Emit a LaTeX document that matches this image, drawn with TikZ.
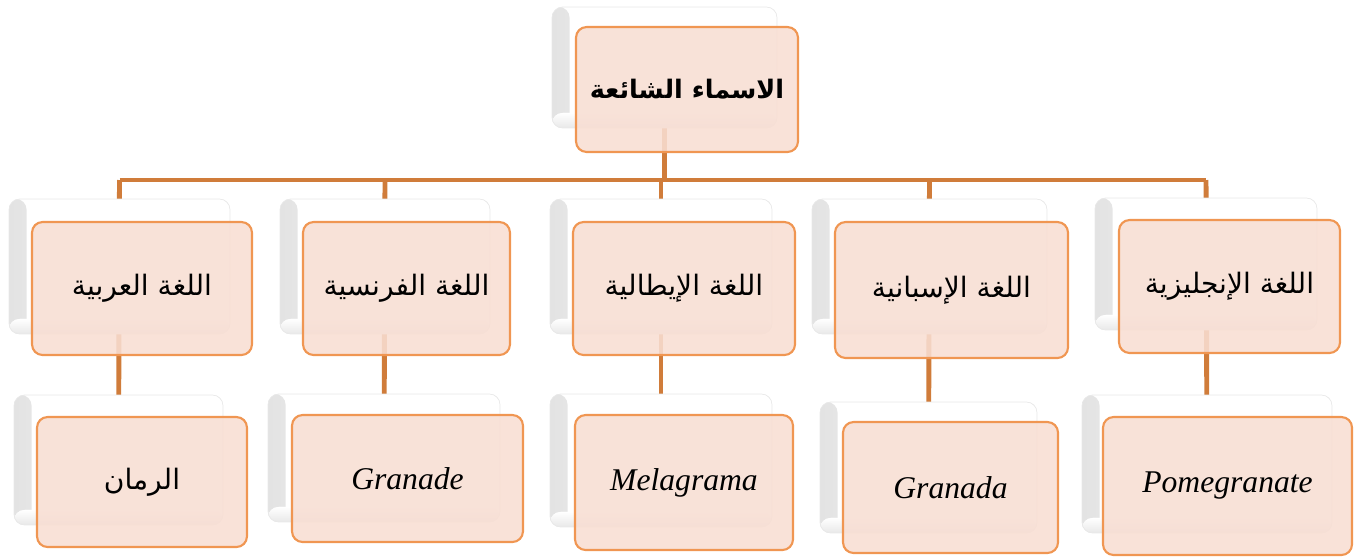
\documentclass[tikz,border=0pt]{standalone}
\usepackage{fontspec}
\setmainfont{Liberation Serif}
\newfontfamily\arabicfont[Script=Arabic]{DejaVu Sans}
\TeXXeTstate=1
\usetikzlibrary{backgrounds}
\definecolor{peach}{RGB}{248,222,211}
\definecolor{edge}{RGB}{240,150,82}
\definecolor{stem}{RGB}{208,124,58}
\newcommand{\artext}[1]{{\arabicfont\beginR #1\endR}}

\begin{document}
\begin{tikzpicture}[x=0.02cm,y=-0.02cm,
  backcard/.style={draw=gray!18,fill=white,rounded corners=6pt,inner sep=0pt,outer sep=0pt,
    path picture={\fill[left color=gray!22,right color=white]
      (path picture bounding box.south west) rectangle ([xshift=0.35cm]path picture bounding box.north west);
      \fill[top color=white,bottom color=gray!18]
      ([yshift=0.3cm]path picture bounding box.south west) rectangle (path picture bounding box.south east);}},
  frontcard/.style={draw=edge,line width=1.2pt,fill=peach,fill opacity=0.88,text opacity=1,
    rounded corners=6pt,inner sep=0pt,outer sep=0pt},
  link/.style={draw=stem,line width=2.8pt},
  every node/.style={font=\fontsize{16}{19}\selectfont}]
\useasboundingbox (0,0) rectangle (1355,558);
\coordinate (bus) at (0,180);
% top
\node[backcard,minimum width=4.5cm,minimum height=2.42cm] (top-b) at (664.5,67.5) {};
\node[frontcard,minimum width=4.44cm,minimum height=2.5cm,font=\fontsize{14.5}{17}\selectfont\bfseries] (top) at (687,89.5) {\artext{الاسماء الشائعة}};
% languages
\node[backcard,minimum width=4.42cm,minimum height=2.7cm] (ar-b) at (119.5,266.5) {};
\node[frontcard,minimum width=4.4cm,minimum height=2.66cm] (arl) at (142,288.5) {\artext{اللغة العربية}};
\node[backcard,minimum width=4.2cm,minimum height=2.7cm] (fr-b) at (385,266.5) {};
\node[frontcard,minimum width=4.14cm,minimum height=2.66cm] (frl) at (406.5,288.5) {\artext{اللغة الفرنسية}};
\node[backcard,minimum width=4.44cm,minimum height=2.7cm] (it-b) at (661,266.5) {};
\node[frontcard,minimum width=4.44cm,minimum height=2.66cm] (itl) at (684,288.5) {\artext{اللغة الإيطالية}};
\node[backcard,minimum width=4.7cm,minimum height=2.7cm] (es-b) at (929.5,266.5) {};
\node[frontcard,minimum width=4.66cm,minimum height=2.72cm] (esl) at (951.5,290) {\artext{اللغة الإسبانية}};
\node[backcard,minimum width=4.44cm,minimum height=2.64cm] (en-b) at (1206,264) {};
\node[frontcard,minimum width=4.42cm,minimum height=2.66cm] (enl) at (1229.5,286.5) {\artext{اللغة الإنجليزية}};
% names
\node[backcard,minimum width=4.18cm,minimum height=2.6cm] (ar2-b) at (118.5,460) {};
\node[frontcard,minimum width=4.2cm,minimum height=2.6cm] (arn) at (142,482) {\artext{الرمان}};
\node[backcard,minimum width=4.64cm,minimum height=2.56cm] (fr2-b) at (384,458) {};
\node[frontcard,minimum width=4.62cm,minimum height=2.54cm,font=\fontsize{18}{21}\selectfont] (frn) at (407.5,478.5) {\textit{Granade}};
\node[backcard,minimum width=4.44cm,minimum height=2.66cm] (it2-b) at (661,460.5) {};
\node[frontcard,minimum width=4.36cm,minimum height=2.7cm,font=\fontsize{18}{21}\selectfont] (itn) at (684,482.5) {\textit{Melagrama}};
\node[backcard,minimum width=4.34cm,minimum height=2.62cm] (es2-b) at (928.5,467.5) {};
\node[frontcard,minimum width=4.3cm,minimum height=2.62cm,font=\fontsize{18}{21}\selectfont] (esn) at (950.5,487.5) {\textit{Granada}};
\node[backcard,minimum width=5cm,minimum height=2.76cm] (en2-b) at (1207,464) {};
\node[frontcard,minimum width=4.98cm,minimum height=2.76cm,font=\fontsize{18}{21}\selectfont] (enn) at (1227.5,486) {\textit{Pomegranate}};
\begin{scope}[on background layer]
\draw[link] (top-b.center) -- (top-b.center |- bus);
\draw[link] (ar-b.center |- bus) -- (en-b.center |- bus);
\foreach \l in {ar,fr,it,es,en}
  \draw[link] (\l-b.center |- bus) -- (\l2-b.center);
\end{scope}
\end{tikzpicture}
\end{document}
